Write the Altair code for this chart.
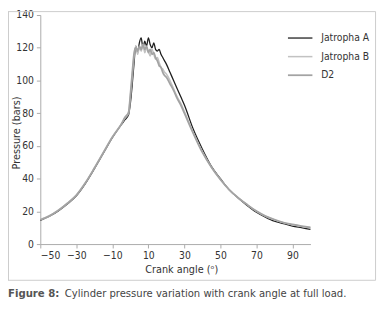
import altair as alt
import pandas as pd

angles = [-50, -45, -40, -35, -30, -25, -20, -15, -10, -5, -3, -1,
          0, 1, 2, 3, 4, 5, 6, 7, 8, 9, 10, 11, 12, 13, 14, 15, 16, 17, 18, 19, 20,
          22, 24, 26, 28, 30,
          35, 40, 45, 50, 55, 60, 65, 70, 75, 80, 85, 90, 95, 100]

jatropha_a = [14.5, 17, 20.3, 24.5, 29.5, 37, 46, 55.5, 65, 73, 76, 79,
              86, 97, 110, 121, 117, 123, 126, 120, 124, 121, 126, 122, 120, 123, 119, 118, 119, 116, 114, 112, 110,
              105, 100, 95, 90, 85,
              70, 58, 47.5, 40, 33, 28, 23.5, 19.5, 16.5, 14, 12.5, 11, 10, 9]

jatropha_b = [15, 17.3, 20.7, 25, 30, 37.5, 46.5, 56, 65.5, 73.5, 77, 80,
              90, 102, 114, 121, 116, 120, 118, 122, 117, 120, 118, 115, 119, 116, 113, 114, 111, 108, 107, 105, 104,
              100, 95, 90, 86, 81,
              68, 56.5, 47, 39.5, 33, 28, 24, 20, 17, 14.8, 13, 11.8, 10.8, 10]

d2 = [14.8, 17.1, 20.5, 24.8, 29.8, 37.3, 46.3, 55.8, 65.3, 73.3, 77.5, 80.5,
      91, 104, 116, 120, 118, 121, 119, 122, 119, 121, 117, 119, 116, 117, 114, 112, 109, 108, 105, 103, 102,
      98, 94, 89, 85, 80,
      67.5, 56, 47, 39.5, 33.2, 28.2, 24, 20.2, 17.2, 15, 13.2, 12, 11, 10.2]

series_names = ["Jatropha A", "Jatropha B", "D2"]
series_colors = ["#1e1e1e", "#c2c2c2", "#a3a3a3"]
series_widths = [1.3, 1.8, 1.1]

x_ticks = [-50, -30, -10, 10, 30, 50, 70, 90]
y_ticks = [0, 20, 40, 60, 80, 100, 120, 140]

caption_label = "Figure 8:"
caption_text = "Cylinder pressure variation with crank angle at full load."

rows = []
for name, vals in zip(series_names, [jatropha_a, jatropha_b, d2]):
    for a, p in zip(angles, vals):
        rows.append({"angle": a, "pressure": p, "series": name})
df = pd.DataFrame(rows)

FONT = "DejaVu Sans Condensed"

lines = alt.Chart(df).mark_line(interpolate="monotone").encode(
    x=alt.X("angle:Q",
            scale=alt.Scale(domain=[-50, 100], nice=False, zero=False),
            axis=alt.Axis(values=x_ticks, title="Crank angle (ᵒ)", grid=False,
                          tickSize=4, labelPadding=3, titlePadding=3,
                          titleX=144)),
    y=alt.Y("pressure:Q",
            scale=alt.Scale(domain=[0, 140], nice=False),
            axis=alt.Axis(values=y_ticks, title="Pressure (bars)", grid=False,
                          tickSize=4, labelPadding=3,
                          titleX=-24, titleY=120, titleAngle=270,
                          titleAlign="center", titleBaseline="middle")),
    color=alt.Color("series:N",
                    scale=alt.Scale(domain=series_names, range=series_colors),
                    legend=alt.Legend(title=None, orient="none", legendX=252, legendY=10,
                                      symbolType="stroke", symbolSize=625,
                                      labelOffset=8, rowPadding=-1)),
    strokeWidth=alt.StrokeWidth("series:N",
                                scale=alt.Scale(domain=series_names, range=series_widths),
                                legend=None),
    order=alt.Order("angle:Q"),
)

frame_bottom = alt.Chart().mark_rule(color="#cccccc", strokeWidth=1).encode(
    x=alt.value(-33), x2=alt.value(342.5), y=alt.value(271))
frame_right = alt.Chart().mark_rule(color="#cccccc", strokeWidth=1).encode(
    x=alt.value(342.5), y=alt.value(-3.5), y2=alt.value(271))
frame_top = alt.Chart().mark_rule(color="#cccccc", strokeWidth=1).encode(
    x=alt.value(-33), x2=alt.value(342.5), y=alt.value(-3.5))
frame_left = alt.Chart().mark_rule(color="#cccccc", strokeWidth=1).encode(
    x=alt.value(-32.5), y=alt.value(-3.5), y2=alt.value(271))

cap1 = alt.Chart(pd.DataFrame({"t": [caption_label]})).mark_text(
    align="left", baseline="middle", fontWeight="bold", fontSize=11.5, font=FONT,
    color="#555555").encode(text="t:N", x=alt.value(-33), y=alt.value(285))
cap2 = alt.Chart(pd.DataFrame({"t": [caption_text]})).mark_text(
    align="left", baseline="middle", fontSize=11.4, font=FONT,
    color="#444444").encode(text="t:N", x=alt.value(25), y=alt.value(285))

chart = alt.layer(frame_top, frame_left, frame_bottom, frame_right, lines, cap1, cap2).properties(
    width=276, height=234,
    autosize=alt.AutoSizeParams(type="none"),
    padding={"left": 33, "top": 4, "right": 69, "bottom": 56},
    background="white",
).configure_view(stroke=None).configure_axis(
    labelFont=FONT, titleFont=FONT, labelFontSize=10.5, titleFontSize=11,
    labelColor="#333333", titleColor="#333333", titleFontWeight="normal",
    domainColor="#aaaaaa", tickColor="#aaaaaa",
).configure_legend(labelFont=FONT, labelFontSize=10.5, labelColor="#333333")

chart.save("out.html", embed_options={"renderer": "svg", "actions": False})
